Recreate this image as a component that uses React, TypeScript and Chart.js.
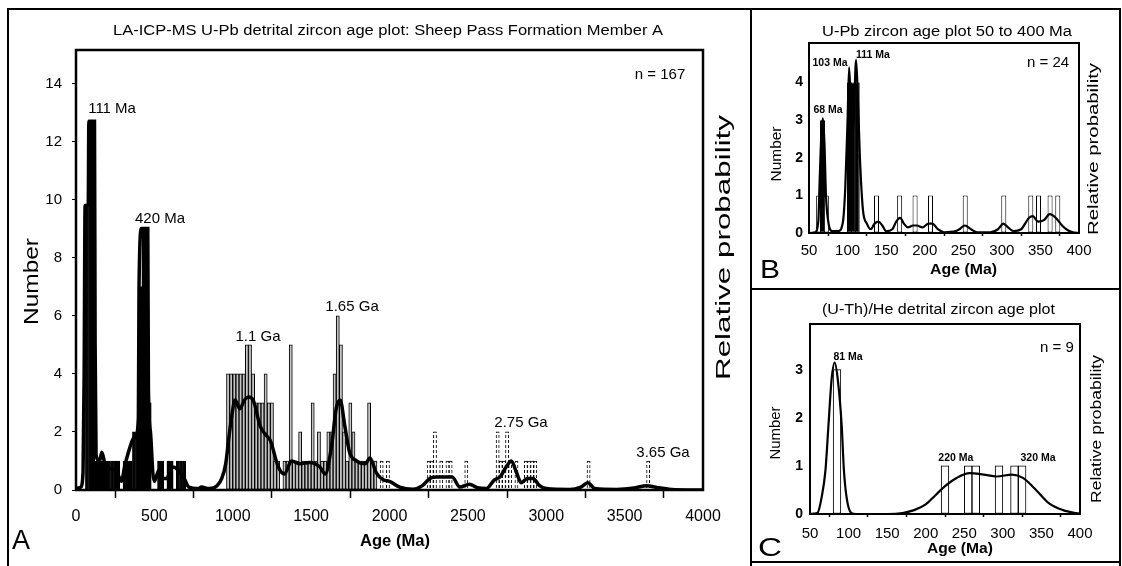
import React, { useEffect, useRef } from "react";
import { Chart, registerables } from "chart.js";
Chart.register(...registerables);

const FAM = '"Liberation Sans", Arial, Helvetica, sans-serif';
const f = (size: number, bold = false) => `${bold ? "bold " : ""}${size}px ${FAM}`;

// ---------------- Panel A : LA-ICP-MS U-Pb, 0-4000 Ma ----------------
const binWidthA = 20;
const binStartsA = [
  60, 80, 100, 120, 140, 160, 180, 200, 220, 240, 260, 300, 320, 340, 360, 380, 400, 420, 440, 460, 520, 540, 580, 600, 640, 660, 680,
  960, 980, 1000, 1020, 1040, 1060, 1080, 1100, 1120, 1140, 1160, 1180, 1200, 1220, 1240, 1260, 1280,
  1320, 1340, 1360, 1380, 1400, 1420, 1440, 1460, 1480, 1500, 1520, 1540, 1560, 1580, 1600, 1620, 1640, 1660, 1680, 1700,
  1720, 1740, 1760, 1780, 1800, 1820, 1840, 1860, 1880, 1900,
  1940, 1980, 2240, 2260, 2280, 2320, 2360, 2380, 2480, 2680, 2700, 2720, 2740, 2760, 2800, 2860, 2880, 2900, 2920, 3260, 3640,
];
const countsA = [
  9.8, 12.7, 12.7, 1, 1, 1, 1, 1, 1, 1, 1, 1, 1, 1, 2, 2, 7, 9, 9, 3, 1, 1, 1, 1, 1, 1, 1,
  4, 4, 4, 4, 4, 4, 5, 5, 4, 3, 3, 3, 4, 3, 3, 1, 1,
  1, 1, 5, 1, 1, 2, 1, 1, 1, 3, 1, 2, 1, 1, 2, 2, 4, 6, 5, 2,
  1, 3, 2, 1, 1, 1, 1, 3, 1, 1,
  1, 1, 1, 1, 2, 1, 1, 1, 1, 2, 1, 1, 2, 1, 1, 1, 1, 1, 1, 1, 1,
];
const curveAgesA = [
  0, 30, 45, 52, 58, 78, 82, 118, 122, 128, 150, 165, 190, 240, 270, 290, 310, 340, 370, 380, 398, 402, 418, 458, 462, 475,
  490, 500, 530, 550, 580, 610, 650, 690, 720, 780, 800, 850, 900, 930, 955, 975, 995, 1015, 1045, 1075, 1100, 1130, 1175, 1210,
  1240, 1290, 1330, 1375, 1430, 1490, 1555, 1590, 1630, 1660, 1685, 1715, 1745, 1790, 1845, 1875, 1915, 1960, 2000, 2065,
  2150, 2210, 2257, 2300, 2400, 2448, 2510, 2560, 2618, 2670, 2705, 2745, 2777, 2810, 2840, 2880, 2915, 2957, 3000, 3150,
  3220, 3265, 3310, 3450, 3570, 3640, 3710, 3800, 4000,
];
const curveValuesA = [
  0.05, 0.1, 0.6, 4, 9.8, 9.8, 12.7, 12.7, 5, 1.2, 1.0, 1.3, 0.8, 0.7, 0.5, 0.3, 0.8, 1.4, 1.8, 1.8, 2.5, 7, 9, 9, 3.5, 2,
  0.6, 0.3, 0.7, 0.4, 0.4, 0.8, 0.7, 0.4, 0.1, 0.05, 0.1, 0.05, 0.15, 0.4, 0.9, 1.8, 2.6, 3.1, 2.8, 3.1, 3.2, 3.1, 2.2, 1.9,
  1.7, 0.8, 0.55, 1.0, 0.9, 0.95, 0.8, 0.55, 1.5, 2.8, 3.1, 2.2, 1.3, 1.0, 0.9, 1.1, 0.6, 0.35, 0.3, 0.1,
  0.03, 0.15, 0.4, 0.45, 0.45, 0.1, 0.2, 0.08, 0.05, 0.35, 0.45, 0.8, 1.0, 0.6, 0.25, 0.4, 0.4, 0.15, 0.05, 0.02,
  0.1, 0.25, 0.05, 0.02, 0.08, 0.15, 0.08, 0.02, 0,
];
const peakTextsA = ["111 Ma", "420 Ma", "1.1 Ga", "1.65 Ga", "2.75 Ga", "3.65 Ga", "n = 167"];
const peakAgesA = [230, 536, 1161, 1761, 2839, 3745, 3726];
const peakValuesA = [13.14, 9.34, 5.28, 6.31, 2.31, 1.28, 14.31];

// ---------------- Panel B : U-Pb 50-400 Ma ----------------
const binCentersB = [62.5, 67.5, 72.5, 102.5, 107.5, 112.5, 137.5, 167.5, 187.5, 207.5, 252.5, 302.5, 337.5, 347.5, 362.5, 372.5];
const countsB = [1, 3, 1, 4, 4, 4, 1, 1, 1, 1, 1, 1, 1, 1, 1, 1];
const curveAgesB = [
  50, 58, 62, 64, 66, 68, 70, 72, 75, 80, 88, 94, 97, 100, 102, 104, 106, 108, 111, 113, 116, 120, 125, 130, 135, 140, 145,
  150, 158, 163, 168, 173, 178, 185, 190, 197, 205, 210, 217, 225, 240, 245, 252, 260, 268, 285, 295, 302, 308, 315, 325,
  335, 340, 347, 355, 362, 370, 378, 385, 392, 400,
];
const curveValuesB = [
  0, 0.02, 0.3, 1.5, 2.6, 3.05, 2.4, 1.0, 0.3, 0.05, 0.05, 0.3, 1.2, 3.0, 4.4, 3.5, 2.5, 3.0, 4.6, 3.8, 2.0, 0.6, 0.25, 0.1,
  0.25, 0.3, 0.2, 0.05, 0.1, 0.3, 0.4, 0.25, 0.15, 0.2, 0.2, 0.15, 0.25, 0.25, 0.1, 0.02, 0.05, 0.1, 0.2, 0.1, 0.02, 0.02,
  0.1, 0.25, 0.15, 0.05, 0.1, 0.4, 0.45, 0.3, 0.35, 0.5, 0.4, 0.2, 0.08, 0.02, 0,
];
const peakTextsB = ["68 Ma", "103 Ma", "111 Ma"];
const peakAgesB = [74.6, 77.2, 133];
const peakValuesB = [3.27, 4.52, 4.73];

// ---------------- Panel C : (U-Th)/He 50-400 Ma ----------------
const binCentersC = [85, 225, 255, 265, 295, 315, 325];
const countsC = [3, 1, 1, 1, 1, 1, 1];
const curveAgesC = [
  50, 55, 60, 65, 70, 74, 78, 82, 86, 91, 94, 97.5, 103, 110, 150, 170, 185, 200, 212, 225, 240, 257, 275, 292, 312, 326,
  343, 360, 378, 395, 400,
];
const curveValuesC = [
  0, 0.01, 0.03, 0.34, 0.9, 1.86, 2.8, 3.15, 2.8, 1.86, 0.9, 0.34, 0.03, 0, 0, 0.02, 0.08, 0.2, 0.38, 0.58, 0.75, 0.85,
  0.82, 0.78, 0.82, 0.75, 0.5, 0.22, 0.08, 0.02, 0.01,
];
const peakTextsC = ["81 Ma", "220 Ma", "320 Ma"];
const peakAgesC = [99.3, 239, 345.6];
const peakValuesC = [3.27, 1.17, 1.17];

type TextItem = { text: string; x: number; y: number; font: string; width?: number; rotate?: boolean };
type DataLabel = { text: string; age: number; value: number; font: string };

function drawText(ctx: CanvasRenderingContext2D, t: TextItem) {
  ctx.save();
  ctx.font = t.font;
  ctx.fillStyle = "#000";
  ctx.textAlign = "center";
  ctx.textBaseline = "middle";
  ctx.translate(t.x, t.y);
  if (t.rotate) ctx.rotate(-Math.PI / 2);
  if (t.width) {
    const w = ctx.measureText(t.text).width;
    ctx.scale(t.width / w, 1);
  }
  ctx.fillText(t.text, 0, 0);
  ctx.restore();
}

function panelPlugin(items: TextItem[], labels: DataLabel[], frameWidth: number) {
  return {
    id: "panelText",
    afterDatasetsDraw(chart: any) {
      const { ctx, chartArea: a, scales } = chart;
      ctx.save();
      ctx.strokeStyle = "#000";
      ctx.lineWidth = frameWidth;
      ctx.strokeRect(a.left, a.top, a.right - a.left, a.bottom - a.top);
      ctx.restore();
      for (const l of labels) {
        drawText(ctx, {
          text: l.text,
          x: scales.x.getPixelForValue(l.age),
          y: scales.y.getPixelForValue(l.value),
          font: l.font,
        });
      }
      for (const t of items) drawText(ctx, t);
    },
  };
}

type PanelSpec = {
  xMin: number; xMax: number; xStep: number;
  yMax: number; yStep: number; yTickMax: number;
  bars: { x: number; y: number }[];
  curve: { x: number; y: number }[];
  barColor: (x: number, y: number) => string;
  borderColor: (x: number, dash: CanvasPattern | null) => any;
  barPercentage: number;
  curveWidth: number;
  frameWidth: number;
  padding: { top: number; right: number };
  yWidth: number; xHeight: number;
  xTickFont: any; yTickFont: any;
  xTickLen: number; xTickPad: number; yTickLen: number; yTickPad: number;
  items: TextItem[];
  labels: DataLabel[];
};

function Panel({ left, top, width, height, spec }: { left: number; top: number; width: number; height: number; spec: PanelSpec }) {
  const ref = useRef<HTMLCanvasElement | null>(null);
  useEffect(() => {
    const canvas = ref.current!;
    const c2 = canvas.getContext("2d")!;
    const pc = document.createElement("canvas");
    pc.width = 1;
    pc.height = 5;
    const pctx = pc.getContext("2d")!;
    pctx.fillStyle = "#000";
    pctx.fillRect(0, 0, 1, 3);
    const dash = c2.createPattern(pc, "repeat");
    const s = spec;
    const pt = (ctx: any) => s.bars[ctx.dataIndex] || { x: 0, y: 0 };
    const chart = new Chart(canvas, {
      type: "bar",
      data: {
        datasets: [
          {
            type: "line",
            data: s.curve,
            borderColor: "#000",
            borderWidth: s.curveWidth,
            pointRadius: 0,
            cubicInterpolationMode: "monotone",
            fill: false,
            order: 1,
          } as any,
          {
            type: "bar",
            data: s.bars,
            backgroundColor: (ctx: any) => s.barColor(pt(ctx).x, pt(ctx).y),
            borderColor: (ctx: any) => s.borderColor(pt(ctx).x, dash),
            borderWidth: 1,
            borderSkipped: false,
            categoryPercentage: 1,
            barPercentage: s.barPercentage,
            order: 2,
          } as any,
        ],
      },
      options: {
        responsive: false,
        animation: false,
        events: [],
        layout: { padding: { top: s.padding.top, right: s.padding.right, left: 0, bottom: 0 } },
        plugins: { legend: { display: false }, tooltip: { enabled: false }, title: { display: false } },
        scales: {
          x: {
            type: "linear",
            position: "bottom",
            min: s.xMin,
            max: s.xMax,
            offset: false,
            ticks: {
              stepSize: s.xStep,
              autoSkip: false,
              maxRotation: 0,
              color: "#000",
              font: s.xTickFont,
              padding: s.xTickPad,
              callback: (v: any) => String(v),
            },
            grid: {
              display: true,
              drawOnChartArea: false,
              drawTicks: true,
              tickLength: s.xTickLen,
              tickColor: "#000",
              tickWidth: 1.5,
            },
            border: { display: false },
            afterFit: (sc: any) => {
              sc.height = s.xHeight;
            },
          },
          y: {
            type: "linear",
            position: "left",
            min: 0,
            max: s.yMax,
            ticks: {
              stepSize: s.yStep,
              color: "#000",
              font: s.yTickFont,
              padding: s.yTickPad,
              callback: (v: any) => String(v),
            },
            grid: {
              display: true,
              drawOnChartArea: false,
              drawTicks: s.yTickLen > 0,
              tickLength: s.yTickLen,
              tickColor: "#000",
              tickWidth: 1,
            },
            border: { display: false },
            afterBuildTicks: (sc: any) => {
              sc.ticks = sc.ticks.filter(
                (t: any) => t.value <= s.yTickMax && Math.abs(t.value / s.yStep - Math.round(t.value / s.yStep)) < 1e-6
              );
            },
            afterFit: (sc: any) => {
              sc.width = s.yWidth;
            },
          },
        },
      } as any,
      plugins: [panelPlugin(s.items, s.labels, s.frameWidth) as any],
    });
    return () => chart.destroy();
  }, [spec]);
  return (
    <canvas
      ref={ref}
      width={width}
      height={height}
      style={{ position: "absolute", left, top, width, height }}
    />
  );
}

const toPoints = (xs: number[], ys: number[]) => xs.map((x, i) => ({ x, y: ys[i] }));
const toLabels = (texts: string[], ages: number[], values: number[], font: (i: number) => string): DataLabel[] =>
  texts.map((text, i) => ({ text, age: ages[i], value: values[i], font: font(i) }));

const specA: PanelSpec = {
  xMin: 0, xMax: 4000, xStep: 500,
  yMax: 15.15, yStep: 2, yTickMax: 14,
  bars: toPoints(binStartsA.map((b) => b + binWidthA / 2), countsA),
  curve: toPoints(curveAgesA, curveValuesA),
  barColor: (x) => (x < 800 ? "#000" : x < 1920 ? "#c4c4c4" : "#fff"),
  borderColor: (x, dash) => (x >= 1920 && dash ? dash : "#000"),
  barPercentage: 1,
  curveWidth: 3.5,
  frameWidth: 2.5,
  padding: { top: 50, right: 47 },
  yWidth: 76, xHeight: 76,
  xTickFont: { family: FAM, size: 16 },
  yTickFont: { family: FAM, size: 15 },
  xTickLen: 8, xTickPad: 9, yTickLen: 4, yTickPad: 10,
  items: [
    { text: "LA-ICP-MS U-Pb detrital zircon age plot: Sheep Pass Formation Member A", x: 388, y: 31, font: f(14), width: 550 },
    { text: "Number", x: 32.5, y: 281.5, font: f(20), width: 87, rotate: true },
    { text: "Relative probability", x: 724, y: 247.5, font: f(20), width: 265, rotate: true },
    { text: "Age (Ma)", x: 395, y: 541.5, font: f(16, true), width: 70 },
    { text: "A", x: 21, y: 542, font: f(27), width: 18 },
  ],
  labels: toLabels(peakTextsA, peakAgesA, peakValuesA, () => f(15)),
};

const specB: PanelSpec = {
  xMin: 50, xMax: 400, xStep: 50,
  yMax: 5.05, yStep: 1, yTickMax: 4,
  bars: toPoints(binCentersB, countsB),
  curve: toPoints(curveAgesB, curveValuesB),
  barColor: (_x, y) => (y >= 3 ? "#000" : "#fff"),
  borderColor: () => "#000",
  barPercentage: 1.3,
  curveWidth: 2.2,
  frameWidth: 2,
  padding: { top: 43, right: 43 },
  yWidth: 57, xHeight: 56,
  xTickFont: { family: FAM, size: 15 },
  yTickFont: { family: FAM, size: 14, weight: "bold" },
  xTickLen: 3, xTickPad: 6, yTickLen: 0, yTickPad: 6,
  items: [
    { text: "U-Pb zircon age plot 50 to 400 Ma", x: 195, y: 32, font: f(14), width: 250 },
    { text: "Number", x: 25, y: 154, font: f(15), width: 55, rotate: true },
    { text: "Relative probability", x: 342, y: 149, font: f(15), width: 172, rotate: true },
    { text: "Age (Ma)", x: 211.5, y: 270, font: f(15, true), width: 67 },
    { text: "B", x: 18, y: 271.5, font: f(25), width: 20 },
  ],
  labels: [
    ...toLabels(peakTextsB, peakAgesB, peakValuesB, () => f(10.5, true)),
    { text: "n = 24", age: 360, value: 4.52, font: f(15) },
  ],
};

const specC: PanelSpec = {
  xMin: 50, xMax: 400, xStep: 50,
  yMax: 3.95, yStep: 1, yTickMax: 3,
  bars: toPoints(binCentersC, countsC),
  curve: toPoints(curveAgesC, curveValuesC),
  barColor: () => "#fff",
  borderColor: () => "#000",
  barPercentage: 1,
  curveWidth: 2.2,
  frameWidth: 2,
  padding: { top: 35, right: 42 },
  yWidth: 58, xHeight: 52,
  xTickFont: { family: FAM, size: 15 },
  yTickFont: { family: FAM, size: 14, weight: "bold" },
  xTickLen: 3, xTickPad: 8, yTickLen: 0, yTickPad: 7,
  items: [
    { text: "(U-Th)/He detrital zircon age plot", x: 186.5, y: 21, font: f(14), width: 233 },
    { text: "Number", x: 24, y: 144, font: f(15), width: 53, rotate: true },
    { text: "Relative probability", x: 345, y: 140, font: f(15), width: 148, rotate: true },
    { text: "Age (Ma)", x: 208, y: 259.5, font: f(15, true), width: 66 },
    { text: "C", x: 18, y: 260, font: f(26), width: 24 },
  ],
  labels: [
    ...toLabels(peakTextsC, peakAgesC, peakValuesC, () => f(10.5, true)),
    { text: "n = 9", age: 370, value: 3.46, font: f(15) },
  ],
};

const line = (l: number, t: number, w: number, h: number) => (
  <div style={{ position: "absolute", left: l, top: t, width: w, height: h, background: "#000" }} />
);

export default function App() {
  return (
    <div style={{ position: "absolute", left: 0, top: 0, width: 1122, height: 566, background: "#fff", overflow: "hidden" }}>
      <Panel left={0} top={0} width={750} height={566} spec={specA} />
      <Panel left={752} top={0} width={370} height={289} spec={specB} />
      <Panel left={752} top={289} width={370} height={277} spec={specC} />
      {line(7, 8, 1114, 2)}
      {line(7, 8, 2, 558)}
      {line(750, 8, 2, 558)}
      {line(1119, 8, 2, 558)}
      {line(750, 288, 371, 2)}
      {line(750, 561, 371, 2)}
    </div>
  );
}
